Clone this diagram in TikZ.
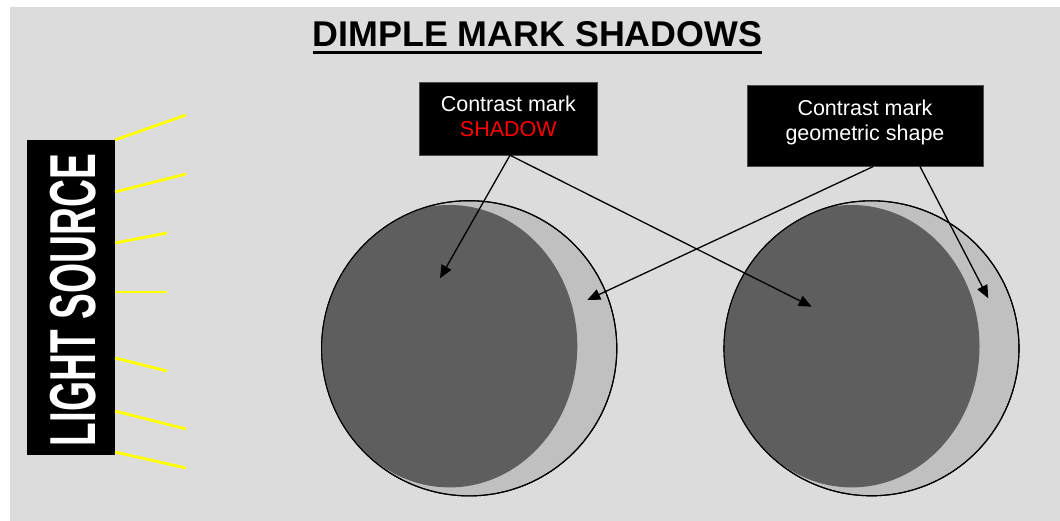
\documentclass[tikz,border=0pt]{standalone}
\usepackage{fontspec}
\setmainfont{Liberation Sans}
\usetikzlibrary{arrows.meta,calc}
\definecolor{panelgray}{HTML}{DCDCDC}
\definecolor{lightdisc}{HTML}{C0C0C0}
\definecolor{darkdisc}{HTML}{5E5E5E}
\definecolor{raycol}{HTML}{FFFF00}
\definecolor{shadowred}{HTML}{FF0000}
\tikzset{
  labelbox/.style={draw=black!70, fill=black, text=white, inner sep=0pt, align=center,
    font=\fontsize{21.5}{25}\selectfont},
  ray/.style={draw=raycol, line width=2.8pt},
  pointer/.style={draw=black, line width=1.3pt, -{Triangle[length=13pt,width=11pt]}},
  rim/.style={draw=black, line width=1.1pt, fill=lightdisc},
}
\begin{document}
\begin{tikzpicture}[x=1pt,y=-1pt]
\useasboundingbox (0,0) rectangle (1060,521);
\fill[white] (0,0) rectangle (1060,521);
\fill[panelgray] (9.5,7) rectangle (1060,521);

% title
\node[anchor=base, inner sep=0pt, font=\fontsize{35.8}{40}\selectfont\bfseries] (title) at (537.5,46.7) {DIMPLE MARK SHADOWS};
\draw[line width=3pt] ($(title.base west)+(0,6)$) -- ($(title.base east)+(0,6)$);

% light source
\node[fill=black, minimum width=87.7pt, minimum height=315pt, inner sep=0pt] (light) at (71.15,297.5) {};
\node[rotate=90, text=white, inner sep=0pt, font=\fontsize{65}{70}\selectfont\bfseries] (lighttext) at (73.3,300) {\scalebox{0.595}[1]{LIGHT SOURCE}};
\draw[ray] (115,140) -- (186,115);
\draw[ray] (115,192) -- (186,174);
\draw[ray] (115,243) -- (167,233);
\draw[ray] (115,292) -- (167,292);
\draw[ray] (115,358) -- (167,371);
\draw[ray] (115,411) -- (186,429);
\draw[ray] (115,452) -- (186,468);

% left disc
\draw[rim] (469.2,348.3) circle[radius=147.6];
\begin{scope}
  \clip (469.2,348.3) circle[radius=147.6];
  \fill[darkdisc] (449.5,346.2) ellipse[x radius=127.8, y radius=141.2];
\end{scope}
\draw[draw=black, line width=1.1pt] (469.2,348.3) circle[radius=147.6];

% right disc
\draw[rim] (871.5,348.3) circle[radius=147.5];
\begin{scope}
  \clip (871.5,348.3) circle[radius=147.5];
  \fill[darkdisc] (851.7,346.2) ellipse[x radius=127.8, y radius=141.2];
\end{scope}
\draw[draw=black, line width=1.1pt] (871.5,348.3) circle[radius=147.5];

% label boxes
\node[labelbox, minimum width=178pt, minimum height=72.7pt] (shadowbox) at (508.3,118.7)
  {Contrast mark\\\textcolor{shadowred}{SHADOW}\rule[-5pt]{0pt}{5pt}};
\node[labelbox, minimum width=236.6pt, minimum height=81pt] (shapebox) at (865,125.8)
  {Contrast mark\\geometric shape\rule[-12pt]{0pt}{12pt}};

% targets
\coordinate (leftshadow) at (440,278.3);
\coordinate (rightshadow) at (811.7,306.7);
\coordinate (leftshape) at (587.3,300);
\coordinate (rightshape) at (988.3,298.3);

% pointers
\draw[pointer] ($(shadowbox.south)+(1.7,0)$) -- (leftshadow);
\draw[pointer] ($(shadowbox.south)+(1.7,0)$) -- (rightshadow);
\draw[pointer] ($(shapebox.south)+(8.3,0)$) -- (leftshape);
\draw[pointer] ($(shapebox.south)+(55,0)$) -- (rightshape);
\end{tikzpicture}
\end{document}
